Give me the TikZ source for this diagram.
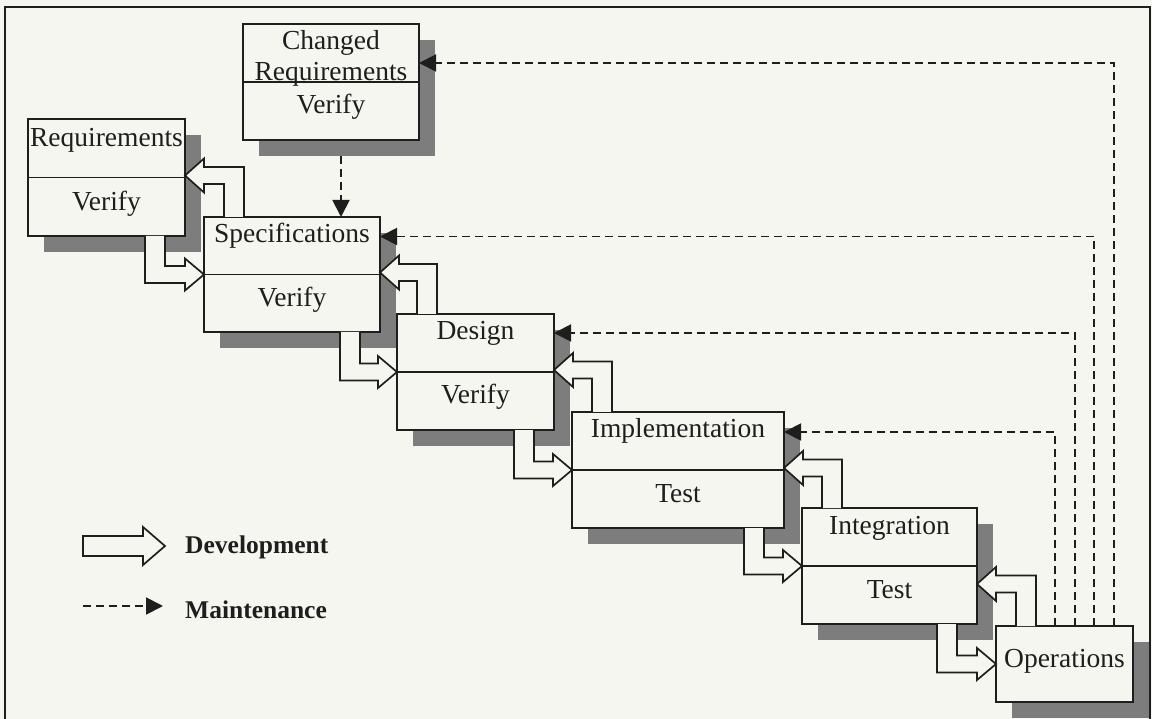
\documentclass[tikz,border=0pt]{standalone}
\usepackage{fontspec}
\setmainfont{Liberation Serif}
\usetikzlibrary{calc,arrows.meta,shadows}
\definecolor{bg}{RGB}{245,246,240}
\definecolor{ink}{RGB}{30,30,30}
\definecolor{shade}{RGB}{125,125,125}

\newcommand\fwdarrow[2]{% upper, lower
  \coordinate (fc-#1) at ($(#1.south east)+(-30,0)$);
  \coordinate (fk-#1) at (fc-#1 |- #2.west);
  \draw[devarrow] ($(fc-#1)+(-10,0)$) -- ($(fk-#1)+(-10,8.5)$) -- ($(#2.west)+(-19,8.5)$)
    -- ($(#2.west)+(-19,16)$) -- (#2.west) -- ($(#2.west)+(-19,-16)$)
    -- ($(#2.west)+(-19,-8.5)$) -- ($(fk-#1)+(10,-8.5)$) -- ($(fc-#1)+(10,0)$);
}
\newcommand\bckarrow[3]{% lower, upper, dy
  \coordinate (bc-#1) at ($(#1.north west)+(30,0)$);
  \coordinate (bt-#1) at ($(#2.east)+(0,#3)$);
  \coordinate (bk-#1) at (bc-#1 |- bt-#1);
  \draw[devarrow] ($(bc-#1)+(10,0)$) -- ($(bk-#1)+(10,-8.5)$) -- ($(bt-#1)+(19,-8.5)$)
    -- ($(bt-#1)+(19,-17)$) -- (bt-#1) -- ($(bt-#1)+(19,17)$)
    -- ($(bt-#1)+(19,8.5)$) -- ($(bk-#1)+(-10,8.5)$) -- ($(bc-#1)+(-10,0)$);
}

\begin{document}
\begin{tikzpicture}[x=1pt,y=-1pt,
  box/.style={draw=ink, line width=1.9pt, fill=bg, outer sep=0pt, inner sep=0pt,
    drop shadow={shadow xshift=16pt, shadow yshift=-16pt, fill=shade, opacity=1}},
  lbl/.style={font=\fontsize{27.5pt}{30pt}\selectfont, text=ink, inner sep=0pt, anchor=base},
  leg/.style={font=\fontsize{25.5pt}{28pt}\selectfont\bfseries, text=ink, inner sep=0pt, anchor=base west},
  devarrow/.style={draw=ink, line width=1.7pt, fill=bg, line join=miter},
  maint/.style={draw=ink, line width=1.9pt, dash pattern=on 8pt off 5pt, -{Triangle[length=17pt,width=17pt]}},
  divider/.style={draw=ink, line width=1.9pt}]

\useasboundingbox (0,0) rectangle (1152,719);
\fill[bg] (0,0) rectangle (1152,719);
\draw[ink, line width=1.9pt] (5,719) -- (5,7) -- (1150,7) -- (1150,719);

% boxes
\node[box, minimum width=176pt, minimum height=116pt] (chreq) at (331,82) {};
\node[box, minimum width=157pt, minimum height=117pt] (req) at (106.5,177.5) {};
\node[box, minimum width=176pt, minimum height=115pt] (spec) at (292,274.5) {};
\node[box, minimum width=157pt, minimum height=116pt] (design) at (475.5,372) {};
\node[box, minimum width=212pt, minimum height=116pt] (impl) at (678,470) {};
\node[box, minimum width=175pt, minimum height=116pt] (integ) at (889.5,566) {};
\node[box, minimum width=137pt, minimum height=76pt] (ops) at (1064.5,664) {};

\foreach \b in {chreq,req,spec,design,impl,integ}{\draw[divider] (\b.west) -- (\b.east);}

% texts
\node[lbl] (chreq-t1) at ($(chreq.north)+(0,26)$) {Changed};
\node[lbl] (chreq-t2) at ($(chreq.north)+(0,57)$) {Requirements};
\node[lbl] (chreq-b) at ($(chreq.center)+(0,32)$) {Verify};
\node[lbl] (req-t) at ($(req.north)+(0,28)$) {Requirements};
\node[lbl] (req-b) at ($(req.center)+(0,33)$) {Verify};
\node[lbl] (spec-t) at ($(spec.north)+(0,26)$) {Specifications};
\node[lbl] (spec-b) at ($(spec.center)+(0,32)$) {Verify};
\node[lbl] (design-t) at ($(design.north)+(0,26)$) {Design};
\node[lbl] (design-b) at ($(design.center)+(0,32)$) {Verify};
\node[lbl] (impl-t) at ($(impl.north)+(0,26)$) {Implementation};
\node[lbl] (impl-b) at ($(impl.center)+(0,32)$) {Test};
\node[lbl] (integ-t) at ($(integ.north)+(0,26)$) {Integration};
\node[lbl] (integ-b) at ($(integ.center)+(0,32)$) {Test};
\node[lbl] (ops-t) at ($(ops.center)+(0,3)$) {Operations};

% development arrows
\fwdarrow{req}{spec}
\fwdarrow{spec}{design}
\fwdarrow{design}{impl}
\fwdarrow{impl}{integ}
\fwdarrow{integ}{ops}
\bckarrow{spec}{req}{-2}
\bckarrow{design}{spec}{-2}
\bckarrow{impl}{design}{-2}
\bckarrow{integ}{impl}{-2}
\bckarrow{ops}{integ}{18}

% maintenance arrows
\draw[maint] ($(ops.north west)+(59,0)$) |- ($(impl.east)+(0,-38)$);
\draw[maint] ($(ops.north west)+(79,0)$) |- ($(design.east)+(0,-39)$);
\draw[maint] ($(ops.north west)+(98,0)$) |- ($(spec.east)+(0,-38)$);
\draw[maint] ($(ops.north west)+(118,0)$) |- ($(chreq.east)+(0,-19)$);
\coordinate (cs) at ($(chreq.south)+(10,16)$);
\draw[maint] (cs) -- (cs |- spec.north);

% legend
\coordinate (dev-a) at (83,546);
\coordinate (dev-b) at (165,546);
\draw[devarrow] ($(dev-a)+(0,-10)$) -- ($(dev-b)+(-22,-10)$) -- ($(dev-b)+(-22,-19)$) -- (dev-b)
  -- ($(dev-b)+(-22,19)$) -- ($(dev-b)+(-22,10)$) -- ($(dev-a)+(0,10)$) -- cycle;
\node[leg] (dev-l) at (185,553) {Development};
\coordinate (mnt-a) at (83,606);
\coordinate (mnt-b) at (163,606);
\draw[maint] (mnt-a) -- (mnt-b);
\node[leg] (mnt-l) at (185,618) {Maintenance};
\end{tikzpicture}
\end{document}
